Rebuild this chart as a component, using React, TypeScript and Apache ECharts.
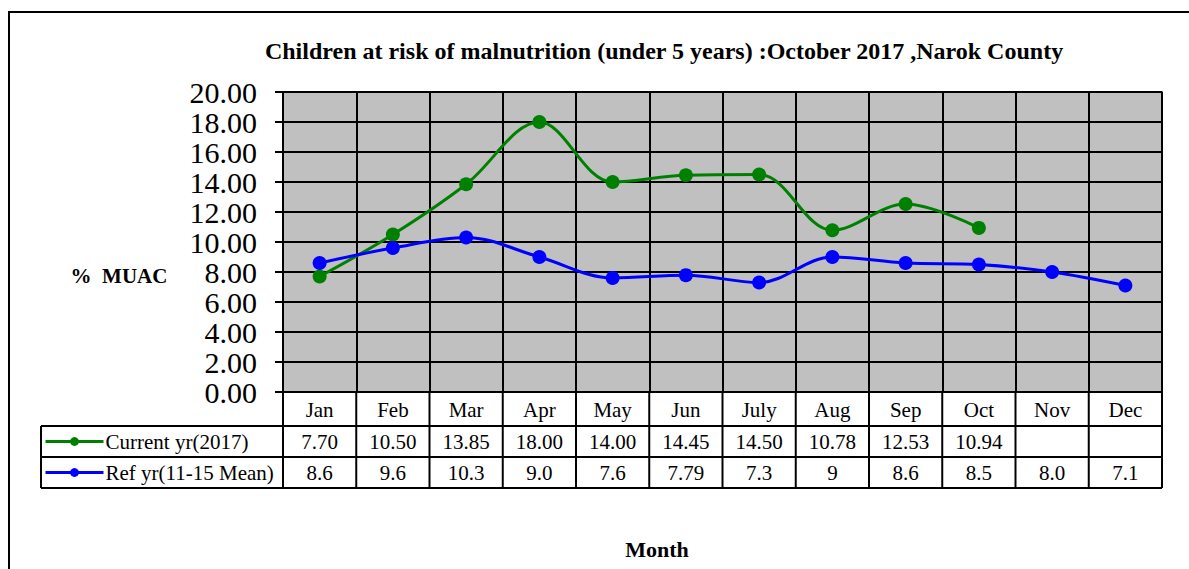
import React, { useEffect, useRef } from "react";
import * as echarts from "echarts";

const months = ["Jan", "Feb", "Mar", "Apr", "May", "Jun", "July", "Aug", "Sep", "Oct", "Nov", "Dec"];
const currentValues = [7.7, 10.5, 13.85, 18.0, 14.0, 14.45, 14.5, 10.78, 12.53, 10.94, null, null];
const currentLabels = ["7.70", "10.50", "13.85", "18.00", "14.00", "14.45", "14.50", "10.78", "12.53", "10.94", "", ""];
const refValues = [8.6, 9.6, 10.3, 9.0, 7.6, 7.79, 7.3, 9, 8.6, 8.5, 8.0, 7.1];
const refLabels = ["8.6", "9.6", "10.3", "9.0", "7.6", "7.79", "7.3", "9", "8.6", "8.5", "8.0", "7.1"];
const seriesNames = ["Current yr(2017)", "Ref yr(11-15 Mean)"];
const titleText = "Children at risk of malnutrition (under 5 years) :October 2017 ,Narok County";
const yName = "%  MUAC";
const xName = "Month";
const yMin = 0;
const yMax = 20;
const yInterval = 2;

const W = 1189;
const H = 569;
const FONT = "Liberation Serif";
const gridL = 283;
const gridR = 1162;
const gridT = 92;
const gridB = 392;
const tableL = 41;
const rowLines = [426, 457, 488];

export default function App() {
  const ref = useRef<HTMLDivElement>(null);
  useEffect(() => {
    if (!ref.current) return;
    const chart = echarts.init(ref.current, null, { renderer: "svg" });
    const colW = (gridR - gridL) / months.length;
    const graphics: any[] = [];
    graphics.push({
      type: "rect",
      shape: { x: 9, y: 12, width: 1250, height: 650 },
      style: { fill: "none", stroke: "#000", lineWidth: 2 },
      silent: true,
    });
    rowLines.forEach((y) => {
      graphics.push({
        type: "line",
        shape: { x1: tableL, y1: y, x2: gridR, y2: y },
        style: { stroke: "#000", lineWidth: 2 },
        z: 10,
      });
    });
    graphics.push({
      type: "line",
      shape: { x1: tableL, y1: rowLines[0], x2: tableL, y2: rowLines[2] },
      style: { stroke: "#000", lineWidth: 2 },
      z: 10,
    });
    for (let i = 0; i <= months.length; i++) {
      const x = gridL + i * colW;
      graphics.push({
        type: "line",
        shape: { x1: x, y1: gridB, x2: x, y2: rowLines[2] },
        style: { stroke: "#000", lineWidth: 2 },
        z: 10,
      });
    }
    graphics.push({
      type: "text",
      x: 119,
      y: 276,
      style: {
        text: yName,
        fontFamily: FONT,
        fontWeight: "bold",
        fontSize: 21,
        fill: "#000",
        align: "center",
        verticalAlign: "middle",
      },
    });
    graphics.push({
      type: "text",
      x: 657,
      y: 549,
      style: {
        text: xName,
        fontFamily: FONT,
        fontWeight: "bold",
        fontSize: 22,
        fill: "#000",
        align: "center",
        verticalAlign: "middle",
      },
    });

    const rowAxis = (data: string[], margin: number) => ({
      type: "category",
      data,
      position: "bottom",
      offset: 0,
      boundaryGap: true,
      axisLine: { show: false },
      axisTick: { show: false },
      splitLine: { show: false },
      axisLabel: {
        interval: 0,
        margin,
        verticalAlign: "middle",
        fontSize: 21,
        fontFamily: FONT,
        color: "#000",
      },
    });

    const legendText = { fontFamily: FONT, fontSize: 21, color: "#000", padding: [0, 0, 0, -3] };
    const legendBase = {
      left: 44,
      itemWidth: 58,
      itemHeight: 11,
      itemGap: 0,
      textStyle: legendText,
      padding: 0,
      lineStyle: { width: 3 },
    };

    chart.setOption({
      animation: false,
      backgroundColor: "#fff",
      title: {
        text: titleText,
        left: 659,
        top: 34,
        textAlign: "center",
        textStyle: { fontFamily: FONT, fontWeight: "bold", fontSize: 24, color: "#000" },
      },
      legend: [
        { ...legendBase, data: [seriesNames[0]], top: 431 },
        { ...legendBase, data: [seriesNames[1]], top: 462 },
      ],
      grid: {
        left: gridL,
        right: W - gridR,
        top: gridT,
        bottom: H - gridB,
        show: true,
        backgroundColor: "#c0c0c0",
        borderColor: "#808080",
        borderWidth: 2,
      },
      xAxis: [
        {
          type: "category",
          data: months,
          position: "bottom",
          offset: 0,
          boundaryGap: true,
          axisLine: { lineStyle: { color: "#000", width: 2 } },
          axisTick: { show: false },
          splitLine: { show: true, interval: 0, lineStyle: { color: "#000", width: 2 } },
          axisLabel: {
            interval: 0,
            margin: 18,
            verticalAlign: "middle",
            fontSize: 21,
            fontFamily: FONT,
            color: "#000",
          },
        },
        rowAxis(currentLabels, 50),
        rowAxis(refLabels, 81),
      ],
      yAxis: {
        type: "value",
        min: yMin,
        max: yMax,
        interval: yInterval,
        axisLine: { show: true, lineStyle: { color: "#000", width: 2 } },
        axisTick: { show: true, length: 8, lineStyle: { color: "#000", width: 2 } },
        splitLine: { show: true, lineStyle: { color: "#000", width: 2 } },
        axisLabel: {
          margin: 26,
          fontSize: 30,
          lineHeight: 24,
          fontFamily: FONT,
          color: "#000",
          showMinLabel: true,
          showMaxLabel: true,
          hideOverlap: false,
          formatter: (v: number) => v.toFixed(2),
        },
      },
      series: [
        {
          name: seriesNames[0],
          type: "line",
          xAxisIndex: 0,
          data: currentValues,
          smooth: 0.35,
          symbol: "circle",
          symbolSize: 14,
          connectNulls: false,
          lineStyle: { color: "#008000", width: 3 },
          itemStyle: { color: "#008000" },
          z: 5,
        },
        {
          name: seriesNames[1],
          type: "line",
          xAxisIndex: 0,
          data: refValues,
          smooth: 0.35,
          symbol: "circle",
          symbolSize: 14,
          lineStyle: { color: "#0000ff", width: 3 },
          itemStyle: { color: "#0000ff" },
          z: 6,
        },
      ],
      graphic: graphics,
    });
    return () => chart.dispose();
  }, []);
  return (
    <div
      ref={ref}
      style={{ position: "fixed", left: 0, top: 0, width: W, height: H, background: "#fff" }}
    />
  );
}
